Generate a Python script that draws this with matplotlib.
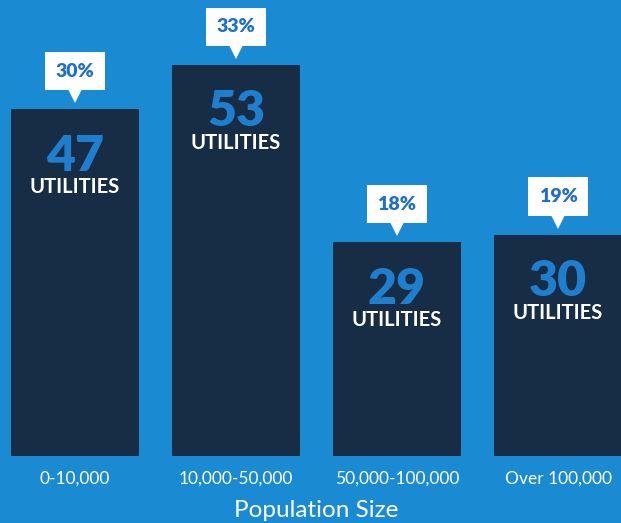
import matplotlib
matplotlib.use("Agg")
import matplotlib.pyplot as plt
from matplotlib.transforms import offset_copy

categories = ["0-10,000", "10,000-50,000", "50,000-100,000", "Over 100,000"]
utilities = [47, 53, 29, 30]
percents = ["30%", "33%", "18%", "19%"]
xlabel = "Population Size"
unit_label = "UTILITIES"

BG = "#1a8bd3"
BAR = "#172d45"
NUM = "#1f7fcf"
PCT = "#1e6fcb"

plt.rcParams['font.family'] = ['Lato', 'DejaVu Sans']

fig = plt.figure(figsize=(6.21, 5.23), dpi=100)
fig.patch.set_facecolor(BG)
ax = fig.add_axes([0, 0, 1, 1])
ax.set_facecolor(BG)

x = list(range(len(categories)))
ax.bar(x, utilities, width=0.8, color=BAR, zorder=2)
ax.set_xlim(-0.466, 3.391)
ax.set_ylim(-9.08, 61.8)
ax.axis('off')

for xi, v, p, c in zip(x, utilities, percents, categories):
    t_num = offset_copy(ax.transData, fig=fig, x=0, y=-47, units='dots')
    ax.text(xi, v, str(v), transform=t_num, ha='center', va='center',
            color=NUM, fontsize=36, fontweight='heavy', zorder=3)
    t_u = offset_copy(ax.transData, fig=fig, x=0, y=-78, units='dots')
    ax.text(xi, v, unit_label, transform=t_u, ha='center', va='center',
            color='white', fontsize=14.5, fontweight='bold', zorder=3)
    t_p = offset_copy(ax.transData, fig=fig, x=0, y=38, units='dots')
    ax.text(xi, v, p, transform=t_p, ha='center', va='center',
            color=PCT, fontsize=14, fontweight='heavy', zorder=4,
            bbox=dict(boxstyle='square,pad=0.55', fc='white', ec='none'))
    t_tri = offset_copy(ax.transData, fig=fig, x=0, y=13, units='dots')
    ax.plot([xi], [v], transform=t_tri, marker='v', markersize=10,
            color='white', markeredgewidth=0, zorder=4)
    ax.text(xi, -3.0, c, ha='center', va='center', color='white', fontsize=12.5)

ax.text(1.5, -7.4, xlabel, ha='center', va='center', color='white', fontsize=17.5)

fig.savefig("out.png", dpi=100, facecolor=BG)
